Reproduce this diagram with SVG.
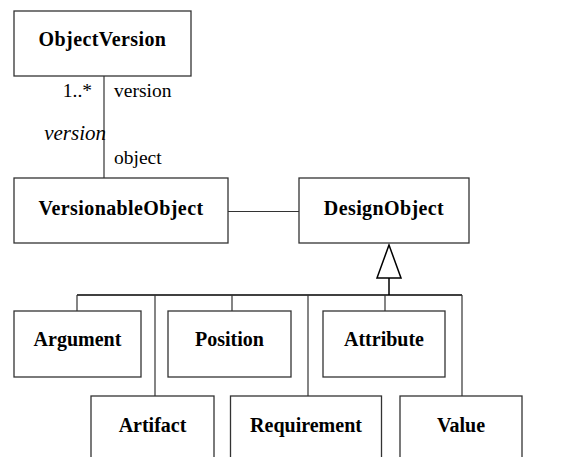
<svg xmlns="http://www.w3.org/2000/svg" width="566" height="457" viewBox="0 0 566 457">
  <style>
    .box { fill: #fff; stroke: #333; stroke-width: 1.3; }
    .name { font-weight: bold; font-size: 20px; text-anchor: middle; fill: #000; }
    .lbl { font-size: 19.5px; fill: #000; }
    .role { font-size: 21px; font-style: italic; text-anchor: end; fill: #000; }
    .ln { fill: none; stroke: #333; stroke-width: 1.2; }
    .gen { fill: #fff; stroke: #000; stroke-width: 1.5; }
  </style>

  <g font-family="Liberation Serif, DejaVu Serif, serif">
  <!-- connectors -->
  <g id="connectors">
    <!-- association ObjectVersion - VersionableObject -->
    <line class="ln" x1="104" y1="76" x2="104" y2="178"/>
    <text class="lbl" x="92" y="97" text-anchor="end">1..*</text>
    <text class="lbl" x="114" y="97">version</text>
    <text class="role" x="106" y="140">version</text>
    <text class="lbl" x="114" y="164">object</text>
    <!-- association VersionableObject - DesignObject -->
    <line class="ln" x1="228" y1="211.5" x2="299" y2="211.5"/>
    <!-- generalization tree -->
    <polygon class="gen" points="389,245 401,278 377,278"/>
    <line class="gen" x1="389" y1="278" x2="389" y2="295"/>
    <line class="gen" x1="77" y1="295" x2="462" y2="295"/>
    <line class="ln" x1="77" y1="295" x2="77" y2="311"/>
    <line class="ln" x1="155" y1="295" x2="155" y2="396"/>
    <line class="ln" x1="232" y1="295" x2="232" y2="311"/>
    <line class="ln" x1="308" y1="295" x2="308" y2="396"/>
    <line class="ln" x1="385" y1="295" x2="385" y2="311"/>
    <line class="ln" x1="462" y1="295" x2="462" y2="396"/>
  </g>

  <g id="ObjectVersion">
    <rect class="box" x="14" y="11" width="177" height="65"/>
    <text class="name" x="102.5" y="46" letter-spacing="0.4">ObjectVersion</text>
  </g>
  <g id="VersionableObject">
    <rect class="box" x="14" y="178" width="214" height="65"/>
    <text class="name" x="121" y="215" letter-spacing="0.4">VersionableObject</text>
  </g>
  <g id="DesignObject">
    <rect class="box" x="299" y="178" width="170" height="65"/>
    <text class="name" x="384" y="215" letter-spacing="0.4">DesignObject</text>
  </g>
  <g id="Argument">
    <rect class="box" x="14" y="311" width="127" height="66"/>
    <text class="name" x="77.5" y="346">Argument</text>
  </g>
  <g id="Position">
    <rect class="box" x="168" y="311" width="123" height="66"/>
    <text class="name" x="229.5" y="346">Position</text>
  </g>
  <g id="Attribute">
    <rect class="box" x="323" y="311" width="122" height="66"/>
    <text class="name" x="384" y="346">Attribute</text>
  </g>
  <g id="Artifact">
    <rect class="box" x="91" y="396" width="123" height="70"/>
    <text class="name" x="152.5" y="432">Artifact</text>
  </g>
  <g id="Requirement">
    <rect class="box" x="230.5" y="396" width="151" height="70"/>
    <text class="name" x="306" y="432">Requirement</text>
  </g>
  <g id="Value">
    <rect class="box" x="400" y="396" width="122" height="70"/>
    <text class="name" x="461" y="432">Value</text>
  </g>
  </g>
</svg>
